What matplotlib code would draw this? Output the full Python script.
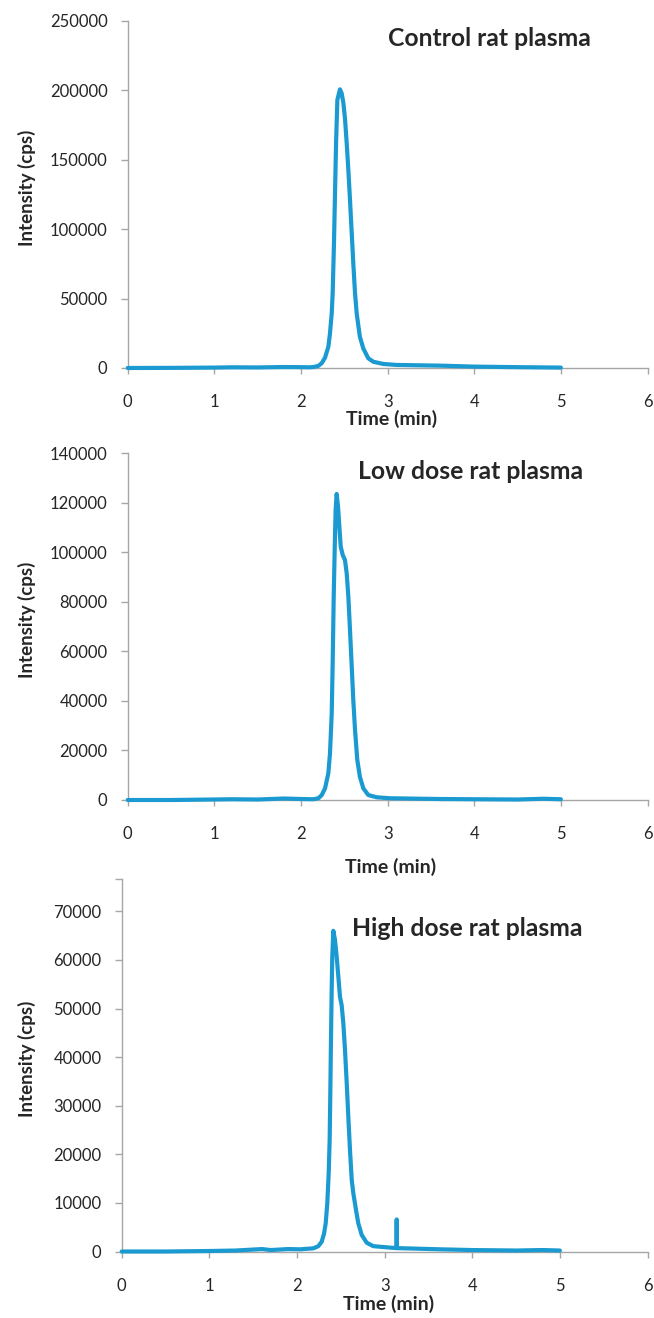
import matplotlib

matplotlib.use("Agg")
import matplotlib.pyplot as plt

W, H = 654, 1318

# Control rat plasma
control_time = [0, 0.5, 1.0, 1.2, 1.5, 1.8, 2.0, 2.1, 2.143, 2.20, 2.24, 2.278, 2.316, 2.335,
                2.355, 2.366, 2.381, 2.393, 2.405, 2.42, 2.45, 2.47, 2.489, 2.508, 2.528, 2.547,
                2.566, 2.586, 2.604, 2.624, 2.643, 2.68, 2.72, 2.777, 2.835, 2.95, 3.105, 3.605,
                4.0, 4.5, 5.0]
control_intensity = [0, 100, 300, 500, 400, 700, 600, 500, 700, 1500, 3500, 7500, 15300, 25000,
                     39400, 53800, 89800, 125700, 161700, 192900, 200600, 197700, 191000, 179700,
                     161700, 142500, 120900, 97000, 75400, 53800, 39400, 22500, 14000, 7000, 4500,
                     2900, 2200, 1700, 1000, 600, 300]

# Low dose rat plasma
low_time = [0, 0.5, 1.0, 1.2, 1.5, 1.8, 2.0, 2.144, 2.20, 2.24, 2.278, 2.316, 2.335, 2.355,
            2.366, 2.378, 2.39, 2.40, 2.412, 2.428, 2.443, 2.459, 2.482, 2.508, 2.528, 2.547,
            2.566, 2.586, 2.604, 2.624, 2.65, 2.68, 2.72, 2.777, 2.874, 3.03, 3.605, 4.0, 4.5,
            4.8, 5.0]
low_intensity = [0, 0, 200, 300, 200, 600, 400, 300, 700, 2000, 4700, 10800, 18800, 35000,
                 55200, 82100, 102300, 117100, 123600, 118400, 110400, 102300, 98900, 96900,
                 91500, 82100, 68600, 53800, 40400, 28300, 16200, 9400, 4700, 2000, 1100, 700,
                 400, 300, 200, 500, 300]

# High dose rat plasma
high_time = [0, 0.5, 1.0, 1.3, 1.6, 1.7, 1.9, 2.035, 2.187, 2.244, 2.282, 2.309, 2.328, 2.346,
             2.362, 2.373, 2.381, 2.388, 2.396, 2.403, 2.415, 2.434, 2.453, 2.472, 2.491, 2.51,
             2.529, 2.548, 2.568, 2.586, 2.605, 2.625, 2.643, 2.674, 2.70, 2.739, 2.796, 2.871,
             3.062, 3.136, 3.138, 3.140, 3.632, 4.0, 4.5, 4.8, 5.0]
high_intensity = [0, 0, 100, 200, 500, 300, 500, 450, 650, 1100, 2000, 3700, 5800, 9900, 16100,
                  22900, 33200, 43500, 53800, 60700, 66000, 64100, 60700, 56600, 52400, 50700,
                  47000, 41500, 34600, 27700, 20900, 14700, 12000, 8500, 5800, 3400, 1800, 1100,
                  800, 700, 6600, 700, 450, 300, 200, 300, 200]

titles = ["Control rat plasma", "Low dose rat plasma", "High dose rat plasma"]
x_ticks = [0, 1, 2, 3, 4, 5, 6]
y_ticks = [
    [0, 50000, 100000, 150000, 200000, 250000],
    [0, 20000, 40000, 60000, 80000, 100000, 120000, 140000],
    [0, 10000, 20000, 30000, 40000, 50000, 60000, 70000],
]
y_tops = [250000, 140000, 76600]

LINE = "#1a9ad0"
SPINE = "#a6a6a6"
TEXT = "#262626"

plt.rcParams["font.family"] = ["Lato", "DejaVu Sans"]


def frac(x, y):
    return x / W, 1 - y / H


# axes boxes in pixels: left, right, top, bottom
boxes = [(127.7, 647.5, 20.7, 368.0), (127.7, 647.5, 453.3, 800.0), (121.7, 647.5, 879.3, 1251.5)]
title_pos = [(388, 38.3), (358, 471.7), (352, 928.3)]
xlabel_pos = [(391.5, 419.0), (391.0, 867.0), (388.5, 1304.0)]
series = [(control_time, control_intensity), (low_time, low_intensity), (high_time, high_intensity)]

fig = plt.figure(figsize=(W / 100, H / 100), dpi=100)
for i, ((left, right, top, bottom), (t, inten)) in enumerate(zip(boxes, series)):
    x0, y0 = frac(left, bottom)
    ax = fig.add_axes([x0, y0, (right - left) / W, (bottom - top) / H])
    ax.plot(t, inten, color=LINE, linewidth=3.0, solid_joinstyle="round", solid_capstyle="round",
            clip_on=False, zorder=3)
    ax.set_xlim(0, 6)
    ax.set_ylim(0, y_tops[i])
    ax.set_xticks(x_ticks)
    ax.set_yticks(y_ticks[i])
    ax.set_yticklabels([str(v) for v in y_ticks[i]])
    if i == 2:
        ax.set_yticks([y_tops[i]], minor=True)
    for side in ("top", "right"):
        ax.spines[side].set_visible(False)
    for side in ("left", "bottom"):
        ax.spines[side].set_color(SPINE)
        ax.spines[side].set_linewidth(1.0)
    ax.tick_params(axis="y", which="both", direction="out", length=5, width=1.0, color=SPINE,
                   pad=9.5, labelsize=12, labelcolor=TEXT)
    ax.tick_params(axis="x", direction="out", length=4, width=1.0, color=SPINE, pad=15,
                   labelsize=12, labelcolor=TEXT)
    ax.patch.set_alpha(0)

    tx, ty = frac(*title_pos[i])
    fig.text(tx, ty, titles[i], ha="left", va="center", fontsize=17.8, fontweight="bold",
             color=TEXT)
    lx, ly = frac(*xlabel_pos[i])
    fig.text(lx, ly, "Time (min)", ha="center", va="center", fontsize=14, fontweight="bold",
             color=TEXT)
    yx, yy = frac(26.7, (top + bottom) / 2 - 7)
    fig.text(yx, yy, "Intensity (cps)", ha="center", va="center", rotation=90, fontsize=13.5,
             fontweight="bold", color=TEXT)

fig.savefig("out.png", dpi=100)
plt.close(fig)
